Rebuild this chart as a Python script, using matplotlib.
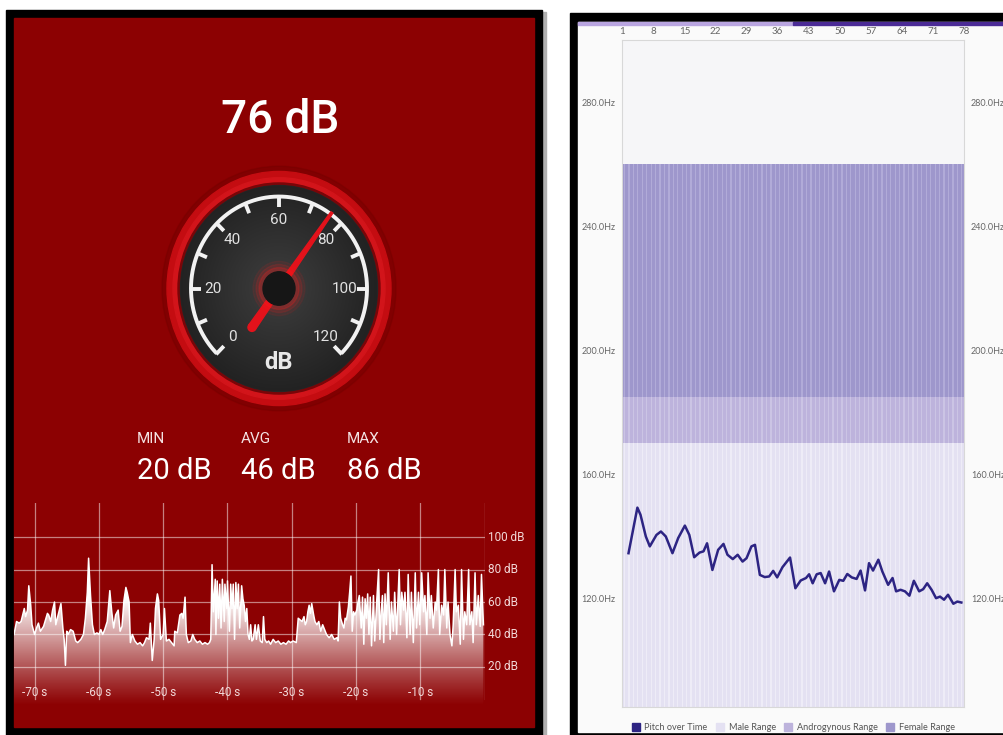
import numpy as np
import matplotlib.pyplot as plt
from matplotlib.patches import Rectangle, Ellipse, Polygon, Patch

# ---- left panel: sound level meter ----
current_db = 76
stat_labels = ["MIN", "AVG", "MAX"]
stat_values = [20, 46, 86]
gauge_ticks = [0, 20, 40, 60, 80, 100, 120]
time_ticks = [-70, -60, -50, -40, -30, -20, -10]
db_ticks = [20, 40, 60, 80, 100]

wave_t = [
    -73.2, -72.8, -72.4, -72.1, -71.6, -71.4, -71.1, -70.9, -70.6, -70.4,
    -70.0, -69.7, -69.4, -69.1, -68.6, -68.3, -68.0, -67.8, -67.5, -67.2,
    -66.9, -66.7, -66.4, -65.9, -65.6, -65.4, -65.2, -65.0, -64.8, -64.4,
    -64.0, -63.6, -63.3, -62.8, -62.4, -62.1, -61.8, -61.6, -61.3, -61.0,
    -60.7, -60.3, -60.0, -59.7, -59.4, -59.1, -58.7, -58.3, -58.0, -57.7,
    -57.4, -57.0, -56.7, -56.4, -56.1, -55.8, -55.6, -55.3, -55.1, -54.8,
    -54.4, -54.0, -53.6, -53.2, -52.9, -52.6, -52.2, -52.0, -51.7, -51.4,
    -51.2, -50.9, -50.7, -50.4, -50.0, -49.8, -49.5, -49.1, -48.7, -48.3,
    -48.2, -47.8, -47.4, -47.1, -46.9, -46.6, -46.4, -46.1, -45.7, -45.4,
    -45.1, -44.7, -44.3, -43.9, -43.5, -43.1, -42.8, -42.6, -42.4, -42.2,
    -41.9, -41.8, -41.6, -41.4, -41.2, -41.0, -40.8, -40.5, -40.4, -40.1,
    -40.0, -39.7, -39.5, -39.3, -39.1, -38.9, -38.7, -38.5, -38.3, -38.1,
    -37.8, -37.6, -37.4, -37.2, -37.0, -36.8, -36.6, -36.4, -36.2, -36.0,
    -35.7, -35.5, -35.2, -34.9, -34.6, -34.4, -34.2, -33.9, -33.6, -33.3,
    -32.9, -32.5, -32.1, -31.7, -31.3, -30.9, -30.5, -30.2, -29.8, -29.3,
    -29.0, -28.7, -28.4, -28.1, -27.9, -27.7, -27.5, -27.3, -27.1, -26.9,
    -26.6, -26.4, -26.1, -25.8, -25.5, -25.2,
    -24.6, -24.2, -23.8, -23.4, -23.0, -22.8, -22.6, -22.4, -22.1, -21.9,
    -21.7, -21.5, -21.2, -21.0, -20.8, -20.6, -20.4, -20.2, -19.9, -19.7,
    -19.5, -19.2, -19.0, -18.8, -18.6, -18.4, -18.2, -18.0, -17.8, -17.6,
    -17.3, -17.1, -16.8, -16.5, -16.3, -16.1, -15.9, -15.7, -15.5, -15.3,
    -15.0, -14.7, -14.5, -14.2, -14.0, -13.7, -13.3, -13.1, -12.9, -12.6,
    -12.4, -12.1, -11.9, -11.6, -11.4, -11.1, -10.8, -10.6, -10.3, -10.1,
    -9.8, -9.5, -9.3, -9.0, -8.8, -8.5, -8.3, -8.0, -7.7, -7.5,
    -7.2, -7.0, -6.7, -6.4, -6.2, -5.9, -5.7, -5.4, -5.1, -4.9,
    -4.6, -4.4, -4.1, -3.8, -3.6, -3.3, -3.1, -2.8, -2.5, -2.3,
    -2.0, -1.8, -1.5, -1.3, -1.0, -0.7, -0.5, -0.2,
]
wave_db = [
    40, 48, 47, 48, 56, 51, 55, 70, 58, 46,
    40, 44, 47, 42, 45, 49, 53, 52, 48, 55,
    60, 46, 51, 59, 44, 37, 21, 42, 40, 43,
    42, 36, 35, 37, 40, 50, 66, 87, 64, 46,
    40, 41, 40, 43, 40, 43, 48, 67, 54, 44,
    52, 55, 42, 45, 61, 69, 66, 60, 35, 40,
    36, 34, 35, 33, 35, 38, 37, 47, 24, 37,
    56, 65, 61, 37, 40, 56, 36, 37, 35, 33,
    42, 41, 52, 53, 50, 63, 40, 35, 36, 40,
    37, 35, 36, 34, 35, 34, 35, 37, 83, 54,
    74, 40, 73, 50, 71, 44, 74, 48, 71, 56,
    73, 42, 71, 56, 71, 37, 72, 56, 71, 44,
    70, 62, 58, 48, 56, 40, 37, 46, 36, 37,
    46, 37, 46, 36, 35, 51, 37, 35, 36, 34,
    37, 35, 36, 34, 35, 34, 36, 35, 36, 35,
    50, 49, 48, 51, 46, 48, 54, 58, 53, 59,
    52, 48, 46, 48, 42, 46,
    40, 38, 40, 37, 38, 36, 60, 50, 46, 44,
    50, 49, 57, 66, 76, 42, 54, 52, 55, 60,
    64, 44, 63, 34, 62, 50, 65, 40, 63, 33,
    64, 36, 60, 80, 37, 54, 64, 35, 65, 46,
    78, 37, 60, 42, 66, 40, 80, 46, 66, 55,
    66, 38, 77, 40, 66, 35, 78, 44, 66, 46,
    78, 54, 64, 40, 78, 50, 64, 44, 60, 55,
    80, 40, 58, 52, 80, 44, 60, 40, 33, 46,
    80, 54, 58, 34, 80, 37, 54, 46, 80, 46,
    54, 35, 78, 46, 64, 45, 77, 46,
]

# ---- right panel: pitch over time ----
frame_ticks = [1, 8, 15, 22, 29, 36, 43, 50, 57, 64, 71, 78]
hz_ticks = [120, 160, 200, 240, 280]
range_names = ["Male Range", "Androgynous Range", "Female Range"]
range_edges = [85, 170, 185, 260]
pitch_x = [
    2.4, 4.4, 5.1, 6.3, 7.2, 8.7, 9.7, 10.8, 12.3, 13.6,
    15.1, 16.1, 17.2, 18.4, 19.3, 20.1, 21.3, 22.6, 23.8, 24.7,
    25.9, 27.0, 28.1, 29.0, 30.1, 30.9, 32.0, 33.1, 34.1, 35.0,
    35.9, 37.1, 38.8, 40.0, 41.2, 42.4, 43.1, 43.9, 44.8, 45.7,
    46.7, 47.6, 48.7, 49.9, 50.8, 51.7, 52.7, 53.8, 54.7, 55.7,
    56.6, 57.5, 58.7, 59.6, 60.9, 61.9, 62.7, 63.7, 64.7, 65.7,
    66.7, 67.9, 68.8, 69.7, 70.7, 71.7, 72.6, 73.5, 74.4, 75.6,
    76.5, 77.4,
]
pitch_hz = [
    134.5, 149.2, 146.9, 139.9, 136.7, 140.4, 141.5, 139.9, 134.5, 139.4,
    143.4, 140.4, 133.2, 134.7, 135.1, 137.7, 129.1, 135.6, 137.5, 134.0,
    132.6, 134.0, 131.8, 132.9, 136.7, 137.2, 127.5, 126.8, 127.0, 128.8,
    126.7, 130.0, 133.1, 123.2, 125.7, 126.5, 127.7, 124.8, 127.7, 128.1,
    124.8, 128.6, 122.2, 125.9, 125.6, 127.8, 126.7, 126.2, 128.9, 122.5,
    131.3, 128.9, 132.4, 128.6, 124.3, 126.5, 122.2, 122.7, 122.2, 120.8,
    125.6, 122.2, 122.9, 124.8, 122.7, 120.0, 120.5, 119.5, 121.1, 118.2,
    118.9, 118.6,
]

RED = "#8c0102"
W, H = 1004, 735

fig = plt.figure(figsize=(W / 100, H / 100), dpi=100)
fig.patch.set_facecolor("white")

# background canvas in pixel units
bg = fig.add_axes([0, 0, 1, 1], zorder=0)
bg.axis("off")
bg.add_patch(Rectangle((542, 12), 4, 723, color="#b0b0b0"))
bg.add_patch(Rectangle((6, 10), 536, 725, color="black"))
bg.add_patch(Rectangle((14, 18), 520, 709, color=RED))
bg.add_patch(Rectangle((570, 13), 434, 722, color="black"))
bg.add_patch(Rectangle((578, 22), 426, 710, color="#fafafa"))
bg.add_patch(Rectangle((578, 22), 215, 2.5, color="#b9a5e0"))
bg.add_patch(Rectangle((793, 22), 211, 2.5, color="#4b2b96"))

# gauge
cx, cy, k = 279, 288.5, 1.045


def ell(r, **kw):
    return Ellipse((cx, cy), 2 * r, 2 * r * k, **kw)


bg.add_patch(ell(117, color="#6a0000", alpha=0.3))
bg.add_patch(ell(112, color="#c40c11"))
bg.add_patch(ell(106, color="#d2141a"))
bg.add_patch(ell(101, color="#7a0508"))
face = ell(98.5, color="#262626")
bg.add_patch(face)
R = 98.5
gx = np.linspace(-1, 1, 200)
gg = np.sqrt(gx[None, :] ** 2 + gx[:, None] ** 2)
shade = np.clip(0.245 - 0.11 * gg, 0.12, 0.25)
img = np.dstack([shade, shade, shade])
im = bg.imshow(img, extent=(cx - R, cx + R, cy + R * k, cy - R * k), aspect="auto", zorder=2)
im.set_clip_path(face)

theta = np.radians(np.linspace(-45, 225, 300))
bg.plot(cx + 88 * np.cos(theta), cy - 88 * k * np.sin(theta), color="#f2f2f2", lw=2.8, zorder=3,
        solid_capstyle="butt")
for v in range(0, 121, 10):
    th = np.radians(225 - v * 2.25)
    bg.plot([cx + 89 * np.cos(th), cx + 78 * np.cos(th)],
            [cy - 89 * k * np.sin(th), cy - 78 * k * np.sin(th)],
            color="#f2f2f2", lw=2.8, zorder=3, solid_capstyle="butt")
for v in gauge_ticks:
    th = np.radians(225 - v * 2.25)
    bg.text(cx + 66 * np.cos(th), cy - 66 * k * np.sin(th), str(v), ha="center", va="center",
            fontsize=11, color="#e2e2e2", family="Roboto", zorder=4)
bg.text(cx, 362, "dB", ha="center", va="center", fontsize=17, fontweight="bold",
        color="#e8e8e8", family="Roboto", zorder=4)

th = np.radians(225 - current_db * 2.25)
u = np.array([np.cos(th), -np.sin(th) * k])
n = np.array([np.sin(th), np.cos(th)])
c = np.array([cx, cy])
tail, tip = c - 46 * u, c + 90 * u
bg.add_patch(Polygon([tail + 4 * n, tip + 1.2 * n, tip - 1.2 * n, tail - 4 * n],
                     closed=True, color="#e3121b", zorder=5))
bg.add_patch(Ellipse(tuple(tail), 8, 8, color="#e3121b", zorder=5))
for r, a in [(26, 0.08), (23, 0.12), (20, 0.2)]:
    bg.add_patch(ell(r, color="#ff1a1a", alpha=a, zorder=5))
bg.add_patch(ell(16, color="#161616", zorder=6))

# texts of the meter
bg.text(280, 120, f"{current_db} dB", ha="center", va="center", fontsize=33,
        fontweight="medium", color="white", family="Roboto")
for x, lab, val in zip([137, 241, 347], stat_labels, stat_values):
    bg.text(x, 439, lab, ha="left", va="center", fontsize=11, color="#f3e2e2", family="Roboto")
    bg.text(x, 471, f"{val} dB", ha="left", va="center", fontsize=21, color="white", family="Roboto")

bg.set_xlim(0, W)
bg.set_ylim(H, 0)

# ---- waveform chart ----
wx0, wx1, wy0, wy1 = 14, 484.7, 503, 727
wa = fig.add_axes([wx0 / W, 1 - wy1 / H, (wx1 - wx0) / W, (wy1 - wy0) / H], zorder=1)
wa.patch.set_alpha(0)
wa.axis("off")
t_lo, db_lo, db_hi = -73.2, -17, 121
for t in time_ticks + [0]:
    wa.plot([t, t], [0, db_hi], color="white", alpha=0.5, lw=0.9)
    if t < 0:
        wa.text(t, 4.4, f"{t} s", ha="center", va="center", fontsize=8.5, color="#f2d8d8",
                family="Roboto")
for d in db_ticks:
    wa.plot([t_lo, 0], [d, d], color="white", alpha=0.5, lw=0.9)
    wa.text(0.55, d, f"{d} dB", ha="left", va="center", fontsize=8.5, color="#f2d8d8",
            family="Roboto", clip_on=False)

verts = list(zip(wave_t, wave_db)) + [(wave_t[-1], db_lo), (wave_t[0], db_lo)]
clip = Polygon(verts, closed=True, facecolor="none", edgecolor="none")
wa.add_patch(clip)
yy = np.linspace(db_hi, db_lo, 300)
alpha = np.clip((yy + 4) / 66, 0, 1) ** 1.1
grad = np.ones((300, 2, 4))
grad[:, :, 3] = alpha[:, None]
gi = wa.imshow(grad, extent=(t_lo, 0, db_lo, db_hi), aspect="auto", origin="upper", zorder=2)
gi.set_clip_path(clip)
wa.plot(wave_t, wave_db, color="white", lw=1.1, zorder=3)
wa.set_xlim(t_lo, 0)
wa.set_ylim(db_lo, db_hi)

# ---- pitch chart ----
px0, px1, py0, py1 = 622.3, 964, 40, 706.7
ax = fig.add_axes([px0 / W, 1 - py1 / H, (px1 - px0) / W, (py1 - py0) / H], zorder=1)
ax.set_facecolor("#f6f6f8")
frames = np.arange(1, 79)
range_colors = ["#e4e1f2", "#bdb3dc", "#9e97cc"]
gap_colors = ["#eeecf7", "#cbc4e4", "#b1abd8"]
for lo, hi, col, gcol in zip(range_edges[:-1], range_edges[1:], range_colors, gap_colors):
    ax.axhspan(lo, hi, color=gcol, lw=0)
    ax.bar(frames, hi - lo, bottom=lo, width=0.72, color=col, linewidth=0)
line_color = "#2d2483"
ax.plot(pitch_x, pitch_hz, color=line_color, lw=1.8, zorder=3)
ax.set_xlim(1, 78)
ax.set_ylim(85, 300)
ax.set_xticks(frame_ticks)
ax.set_yticks(hz_ticks)
ax.set_yticklabels([f"{v:.1f}Hz" for v in hz_ticks])
ax.tick_params(axis="x", top=True, labeltop=True, bottom=False, labelbottom=False,
               length=0, pad=3, labelsize=7, labelcolor="#666666")
ax.tick_params(axis="y", left=False, right=False, labelleft=True, labelright=True,
               length=0, pad=5, labelsize=6.5, labelcolor="#666666")
for lab in ax.get_xticklabels() + ax.get_yticklabels():
    lab.set_family("Lato")
for s in ax.spines.values():
    s.set_color("#d8d8d8")
    s.set_linewidth(0.8)

handles = [Patch(color=line_color)] + [Patch(color=cc) for cc in range_colors]
ax.legend(handles, ["Pitch over Time"] + range_names, loc="upper center",
          bbox_to_anchor=(0.5, -0.012), ncol=4, frameon=False,
          prop={"family": "Lato", "size": 6.6}, labelcolor="#555555",
          handlelength=0.9, handleheight=0.9, handletextpad=0.5, columnspacing=0.9)

fig.savefig("out.png", dpi=100)
